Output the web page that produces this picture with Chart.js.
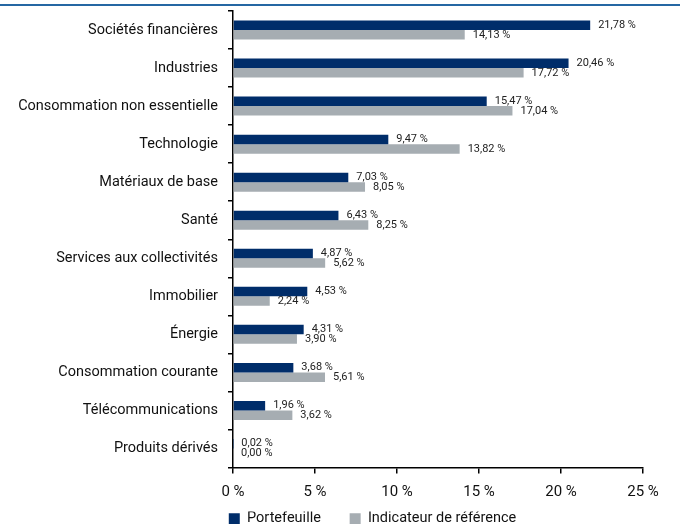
<!DOCTYPE html>
<html>
<head>
<meta charset="utf-8">
<script src="https://cdn.jsdelivr.net/npm/chart.js@4"></script>
<style>
  html, body { margin: 0; padding: 0; background: #fff; }
  #wrap { width: 680px; height: 524px; position: relative; }
</style>
</head>
<body>
<div id="wrap"><canvas id="sectorChart"></canvas></div>
<script>
const categories = ['Sociétés financières', 'Industries', 'Consommation non essentielle', 'Technologie',
  'Matériaux de base', 'Santé', 'Services aux collectivités', 'Immobilier', 'Énergie',
  'Consommation courante', 'Télécommunications', 'Produits dérivés'];
const portefeuille = [21.78, 20.46, 15.47, 9.47, 7.03, 6.43, 4.87, 4.53, 4.31, 3.68, 1.96, 0.02];
const indicateur = [14.13, 17.72, 17.04, 13.82, 8.05, 8.25, 5.62, 2.24, 3.90, 5.61, 3.62, 0.00];
const seriesNames = ['Portefeuille', 'Indicateur de référence'];
const xTicks = [0, 5, 10, 15, 20, 25];

(function(){
  const ctx = document.getElementById('sectorChart');
  const fontFamily = 'Roboto, "Liberation Sans", sans-serif';

  function pct(v) {
    return v.toFixed(2).replace('.', ',') + ' %';
  }

  // top rule, legend nudge and value labels at the end of each bar
  const decorations = {
    id: 'decorations',
    afterLayout(chart) {
      chart.legend.left += 51;
      chart.legend.right += 51;
    },
    beforeDraw(chart) {
      const c = chart.ctx;
      c.save();
      c.fillStyle = '#2567a3';
      c.fillRect(0, 4, chart.width, 2);
      c.restore();
    },
    afterDatasetsDraw(chart) {
      const c = chart.ctx;
      c.save();
      c.font = '11px ' + fontFamily;
      c.fillStyle = '#222';
      c.textBaseline = 'middle';
      c.textAlign = 'left';
      chart.data.datasets.forEach((ds, i) => {
        chart.getDatasetMeta(i).data.forEach((bar, j) => {
          c.fillText(pct(ds.data[j]), bar.x + 8, bar.y);
        });
      });
      c.restore();
    }
  };

  new Chart(ctx, {
    type: 'bar',
    data: {
      labels: categories,
      datasets: [{
        label: seriesNames[0],
        data: portefeuille,
        backgroundColor: '#002d6a',
        categoryPercentage: 0.5,
        barPercentage: 1
      }, {
        label: seriesNames[1],
        data: indicateur,
        backgroundColor: '#a6adb2',
        categoryPercentage: 0.5,
        barPercentage: 1
      }]
    },
    options: {
      indexAxis: 'y',
      responsive: true,
      maintainAspectRatio: false,
      animation: false,
      layout: {
        padding: { left: 0, right: 37, top: 11, bottom: -12 }
      },
      scales: {
        x: {
          min: 0,
          max: 25,
          afterBuildTicks: function(axis) {
            axis.ticks = xTicks.map(v => ({ value: v }));
          },
          border: { color: '#000', width: 1.5 },
          grid: { drawOnChartArea: false, tickLength: 6, color: '#000', lineWidth: 1.5 },
          ticks: {
            color: '#111',
            padding: 10,
            maxRotation: 0,
            font: { size: 15, family: fontFamily },
            callback: function(v) { return v + ' %'; }
          }
        },
        y: {
          afterFit: function(scale) {
            scale.width = 233;
            scale.paddingTop = 0;
            scale.paddingBottom = 0;
          },
          border: { color: '#000', width: 1.5 },
          grid: { drawOnChartArea: false, tickLength: 5, color: '#000', lineWidth: 1.5 },
          ticks: {
            color: '#111',
            padding: 10,
            font: { size: 14.5, family: fontFamily }
          }
        }
      },
      plugins: {
        legend: {
          position: 'bottom',
          labels: {
            color: '#111',
            boxWidth: 11,
            boxHeight: 11,
            padding: 0,
            font: { size: 14.5, family: fontFamily },
            generateLabels: function(chart) {
              const items = Chart.defaults.plugins.legend.labels.generateLabels(chart);
              items[0].text += '        ';
              return items;
            }
          }
        },
        tooltip: { enabled: false }
      }
    },
    plugins: [decorations]
  });
})();
</script>
</body>
</html>
